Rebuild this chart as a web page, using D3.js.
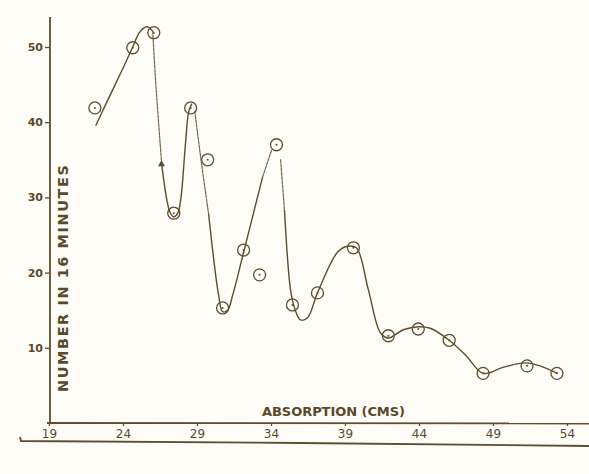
<!DOCTYPE html>
<html>
<head>
<meta charset="utf-8">
<script src="https://cdn.jsdelivr.net/npm/d3@7/dist/d3.min.js"></script>
<style>
  html, body { margin: 0; padding: 0; background: #fdfcf6; }
  svg { display: block; }
  text { font-family: "DejaVu Sans", sans-serif; fill: #5a4a2b; }
</style>
</head>
<body>
<div id="chart"></div>
<script>
// ---- data ----
const xTicks = [19, 24, 29, 34, 39, 44, 49, 54];
const yTicks = [10, 20, 30, 40, 50];
const yTickLabels = ["10", "20", "30", "40", "50"];

// observed points (absorption in cms, number in 16 minutes)
const pointX = [22.1, 24.66, 26.08, 27.43, 28.57, 29.72, 30.73, 32.15, 33.23, 34.37,
                35.45, 37.14, 39.57, 41.93, 43.95, 46.04, 48.33, 51.3, 53.32];
const pointY = [41.9, 49.9, 51.9, 27.9, 41.9, 35.0, 15.3, 23.0, 19.7, 37.0,
                15.7, 17.3, 23.3, 11.6, 12.5, 11.0, 6.6, 7.6, 6.6];

// hand-drawn curve in pieces (solid / faint dotted)
const curveSolid1X = [22.17, 22.84, 23.86, 24.66, 25.1, 25.61, 26.01];
const curveSolid1Y = [39.6, 42.4, 46.6, 50.0, 51.9, 52.7, 52.1];
const curveDot1X = [26.01, 26.2, 26.62];
const curveDot1Y = [52.1, 45.6, 34.3];
const curveSolid2X = [26.62, 26.96, 27.16, 27.43, 27.70, 27.90, 28.24, 28.44, 28.64];
const curveSolid2Y = [34.3, 29.7, 28.1, 27.4, 27.9, 29.7, 37.6, 41.4, 42.4];
const curveDot2X = [28.85, 29.3, 29.79];
const curveDot2Y = [41.4, 34.6, 27.7];
const curveSolid3X = [29.79, 30.46, 30.73, 31.07, 31.41, 32.15, 33.43];
const curveSolid3Y = [27.7, 17.0, 14.8, 15.0, 17.0, 22.7, 32.7];
const curveDot3X = [33.43, 34.04];
const curveDot3Y = [32.7, 36.3];
const curveDot4X = [34.65, 34.91];
const curveDot4Y = [35.0, 28.3];
const curveSolid4X = [34.91, 35.32, 35.59, 35.99, 36.47, 37.14, 38.49, 39.16, 39.77, 40.58, 41.39,
                      41.93, 42.94, 43.95, 44.76, 46.04, 47.2, 48.33, 49.68, 51.17, 52.18, 53.33];
const curveSolid4Y = [28.3, 17.7, 15.3, 13.7, 14.0, 17.3, 22.7, 23.5, 23.3, 17.7, 12.0,
                      11.3, 12.4, 12.8, 12.6, 11.0, 8.9, 6.6, 7.4, 8.0, 7.6, 6.6];

const arrowMarkX = [26.6];
const arrowMarkY = [34.4];

// ---- chart ----
const W = 589, H = 474;
const ink = "#5e4d2e";
const svg = d3.select("#chart").append("svg").attr("width", W).attr("height", H);

const x = d3.scaleLinear().domain([19, 54]).range([49, 567]);
const y = d3.scaleLinear().domain([0, 50]).range([423, 47]);

// axes
svg.append("line").attr("x1", 50).attr("x2", 50).attr("y1", 17).attr("y2", 423)
  .attr("stroke", ink).attr("stroke-width", 1.8);
svg.append("line").attr("x1", 47).attr("x2", 589).attr("y1", 423).attr("y2", 423.5)
  .attr("stroke", ink).attr("stroke-width", 1.8);
// lower frame line
svg.append("path").attr("d", "M20,437 L21,441 L300,443 L589,446")
  .attr("fill", "none").attr("stroke", ink).attr("stroke-width", 1.8);

const yAxis = d3.axisLeft(y).tickValues(yTicks).tickSize(5).tickPadding(2)
  .tickFormat((d, i) => yTickLabels[i]);
const gy = svg.append("g").attr("transform", "translate(50,0)").call(yAxis);
gy.select(".domain").remove();
gy.selectAll(".tick line").attr("stroke", ink).attr("stroke-width", 1.3);
gy.selectAll(".tick text").attr("fill", ink).style("font-size", "11px").style("font-weight", "bold")
  .style("font-family", "DejaVu Sans, sans-serif");

const xAxis = d3.axisBottom(x).tickValues(xTicks).tickSize(3).tickPadding(3).tickFormat(d3.format("d"));
const gx = svg.append("g").attr("transform", "translate(0,423)").call(xAxis);
gx.select(".domain").remove();
gx.selectAll(".tick line").attr("stroke", ink).attr("stroke-width", 1.3);
gx.selectAll(".tick text").attr("fill", ink).style("font-size", "12px")
  .style("font-family", "DejaVu Sans, sans-serif");

// axis titles
svg.append("text").attr("x", 262).attr("y", 416).attr("textLength", 143).attr("lengthAdjust", "spacing")
  .style("font-size", "13px").style("font-weight", "bold").text("ABSORPTION (CMS)");
svg.append("text").attr("transform", "translate(68,392) rotate(-90)")
  .attr("textLength", 227).attr("lengthAdjust", "spacing")
  .style("font-size", "14.5px").style("font-weight", "bold").text("NUMBER IN 16 MINUTES");

// curve
const line = d3.line().x(d => x(d[0])).y(d => y(d[1])).curve(d3.curveCatmullRom.alpha(0.5));
function seg(xs, ys, dotted) {
  svg.append("path").datum(xs.map((v, i) => [v, ys[i]]))
    .attr("d", line).attr("fill", "none")
    .attr("stroke", dotted ? "#76664a" : ink)
    .attr("stroke-width", dotted ? 1.2 : 1.4)
    .attr("stroke-dasharray", dotted ? "3,1.2" : null)
    .attr("stroke-linecap", "round");
}
seg(curveSolid1X, curveSolid1Y, false);
seg(curveDot1X, curveDot1Y, true);
seg(curveSolid2X, curveSolid2Y, false);
seg(curveDot2X, curveDot2Y, true);
seg(curveSolid3X, curveSolid3Y, false);
seg(curveDot3X, curveDot3Y, true);
seg(curveDot4X, curveDot4Y, true);
seg(curveSolid4X, curveSolid4Y, false);

// small arrow mark on the descending line
svg.selectAll(".arrowmark").data(arrowMarkX.map((v, i) => [v, arrowMarkY[i]])).enter()
  .append("path").attr("class", "arrowmark")
  .attr("transform", d => `translate(${x(d[0])},${y(d[1])})`)
  .attr("d", d3.symbol().type(d3.symbolTriangle).size(22))
  .attr("fill", ink);

// points
const pts = pointX.map((v, i) => [v, pointY[i]]);
svg.selectAll(".pt").data(pts).enter().append("circle").attr("class", "pt")
  .attr("cx", d => x(d[0])).attr("cy", d => y(d[1])).attr("r", 6)
  .attr("fill", "none").attr("stroke", ink).attr("stroke-width", 1.3);
svg.selectAll(".ptc").data(pts).enter().append("circle").attr("class", "ptc")
  .attr("cx", d => x(d[0])).attr("cy", d => y(d[1])).attr("r", 1)
  .attr("fill", ink);
</script>
</body>
</html>
